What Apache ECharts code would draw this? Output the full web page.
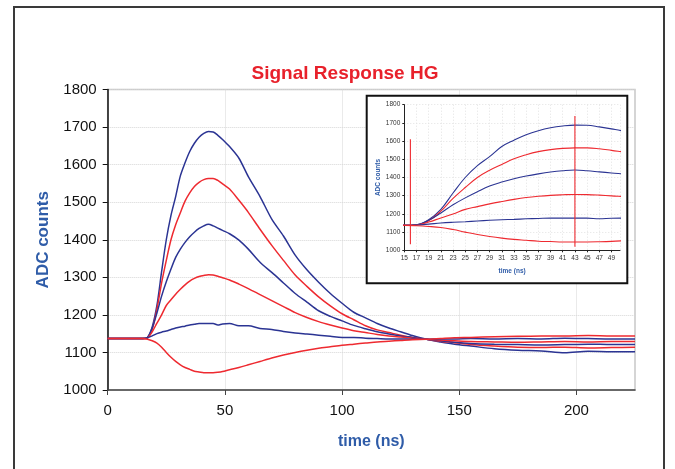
<!DOCTYPE html>
<html>
<head>
<meta charset="utf-8">
<script src="https://cdn.jsdelivr.net/npm/echarts@6/dist/echarts.min.js"></script>
<style>html,body{margin:0;padding:0;background:#fff}#c{width:675px;height:469px}</style>
</head>
<body>
<div id="c"></div>
<script>
// time axis (ns)
const timeNs = [0, 10, 15, 17, 19, 21, 23, 25, 27, 29, 31, 33, 35, 37, 39, 41, 43, 45, 47, 49, 52, 56, 60, 65, 70, 75, 80, 85, 90, 95, 100, 105, 110, 115, 120, 125, 130, 136, 142, 148, 155, 165, 175, 185, 195, 205, 215, 225];
// ADC counts for each pulse amplitude
const blue1 = [1137, 1137, 1137, 1140, 1168, 1225, 1315, 1400, 1465, 1515, 1570, 1605, 1635, 1657, 1673, 1683, 1688, 1687, 1678, 1667, 1648, 1617, 1568, 1515, 1455, 1410, 1359, 1320, 1287, 1257, 1231, 1207, 1192, 1177, 1165, 1155, 1145, 1135, 1128, 1122, 1117, 1110, 1106, 1104, 1099, 1103, 1102, 1102];
const red1 = [1137, 1137, 1137, 1139, 1162, 1215, 1285, 1345, 1400, 1440, 1472, 1503, 1525, 1542, 1553, 1560, 1563, 1563, 1558, 1549, 1535, 1505, 1473, 1428, 1385, 1345, 1306, 1276, 1248, 1224, 1203, 1187, 1171, 1160, 1153, 1146, 1140, 1135, 1130, 1126, 1121, 1117, 1114, 1113, 1114, 1112, 1113, 1114];
const blue2 = [1137, 1137, 1137, 1140, 1165, 1205, 1250, 1288, 1322, 1353, 1375, 1393, 1408, 1420, 1430, 1437, 1441, 1437, 1431, 1425, 1416, 1399, 1375, 1340, 1313, 1285, 1257, 1234, 1211, 1196, 1184, 1172, 1163, 1155, 1149, 1144, 1140, 1135, 1131, 1127, 1124, 1122, 1121, 1120, 1121, 1122, 1121, 1121];
const red2 = [1137, 1137, 1137, 1139, 1155, 1178, 1200, 1225, 1240, 1255, 1268, 1280, 1290, 1297, 1302, 1305, 1307, 1306, 1303, 1299, 1293, 1282, 1270, 1254, 1238, 1222, 1206, 1193, 1182, 1173, 1165, 1158, 1153, 1148, 1144, 1141, 1138, 1135, 1133, 1131, 1129, 1128, 1127, 1128, 1129, 1128, 1129, 1129];
const blue3 = [1137, 1137, 1137, 1139, 1144, 1150, 1154, 1157, 1161, 1165, 1168, 1170, 1173, 1175, 1177, 1177, 1177, 1177, 1173, 1176, 1177, 1171, 1171, 1164, 1161, 1156, 1152, 1149, 1146, 1143, 1140, 1140, 1138, 1137, 1136, 1136, 1135, 1135, 1136, 1136, 1137, 1136, 1137, 1136, 1138, 1137, 1136, 1136];
const red3 = [1137, 1137, 1137, 1135, 1131, 1125, 1114, 1100, 1087, 1076, 1067, 1060, 1055, 1050, 1048, 1046, 1046, 1046, 1047, 1049, 1054, 1060, 1067, 1076, 1085, 1093, 1100, 1106, 1111, 1115, 1119, 1122, 1125, 1128, 1130, 1132, 1134, 1135, 1137, 1139, 1140, 1142, 1143, 1144, 1144, 1145, 1144, 1144];
// inset vertical markers: [time, low, high]
const insetMarkers = [[16, 1033, 1610], [43, 1020, 1738]];

const curves = [
  { v: blue1, c: 'blue' }, { v: red1, c: 'red' }, { v: blue2, c: 'blue' },
  { v: red2, c: 'red' }, { v: blue3, c: 'blue' }, { v: red3, c: 'red' }
];
const BLUE = '#2B3493', RED = '#EE2A30', NAME_BLUE = '#2F5CA8';
const FF = 'Liberation Sans, Arial, sans-serif';
const pairs = arr => timeNs.map((t, i) => [t, arr[i]]);
const plain = v => String(v);

const series = [];
curves.forEach(cv => {
  series.push({ type: 'line', xAxisIndex: 0, yAxisIndex: 0, data: pairs(cv.v), symbol: 'none', smooth: 0.3, z: 2,
    lineStyle: { color: cv.c === 'blue' ? BLUE : RED, width: 1.5 } });
});
curves.forEach(cv => {
  series.push({ type: 'line', xAxisIndex: 1, yAxisIndex: 1, data: pairs(cv.v), symbol: 'none', smooth: 0.4, z: 4, clip: true,
    lineStyle: { color: cv.c === 'blue' ? BLUE : RED, width: 1.1 } });
});
insetMarkers.forEach(m => {
  series.push({ type: 'line', xAxisIndex: 1, yAxisIndex: 1, data: [[m[0], m[1]], [m[0], m[2]]], symbol: 'none', z: 5,
    lineStyle: { color: RED, width: 1.1 } });
});

const chart = echarts.init(document.getElementById('c'), null, { renderer: 'canvas' });
chart.setOption({
  animation: false,
  backgroundColor: '#fff',
  title: { text: 'Signal Response HG', left: 340, top: 59, textAlign: 'center',
    textStyle: { color: '#E8212B', fontSize: 19, fontWeight: 'bold', fontFamily: FF } },
  graphic: [
    { type: 'rect', shape: { x: 14, y: 7, width: 650, height: 475 }, style: { fill: 'none', stroke: '#3a3a3a', lineWidth: 2 }, z: 0 },
    { type: 'rect', shape: { x: 366.7, y: 95.7, width: 260.6, height: 187.6 }, style: { fill: '#fff', stroke: '#111', lineWidth: 2 }, z: 1 }
  ],
  grid: [
    { left: 107.7, top: 89.5, right: 40, bottom: 79, show: true, borderColor: '#c8c8c8', borderWidth: 1.5 },
    { left: 404.3, top: 104.7, right: 55, bottom: 218.7 }
  ],
  xAxis: [
    { gridIndex: 0, type: 'value', min: 0, max: 225, interval: 50,
      axisLine: { onZero: false, lineStyle: { color: '#444', width: 1.5 } },
      axisTick: { length: 5, lineStyle: { color: '#444' } },
      axisLabel: { showMaxLabel: false, color: '#111', fontSize: 15, margin: 13, fontFamily: FF, formatter: plain },
      splitLine: { show: true, lineStyle: { color: '#d6d6d6', type: 'dotted' } },
      name: 'time (ns)', nameLocation: 'middle', nameGap: 44,
      nameTextStyle: { color: NAME_BLUE, fontSize: 16, fontWeight: 'bold', fontFamily: FF } },
    { gridIndex: 1, type: 'value', min: 15, max: 50.4, interval: 2, z: 3,
      axisLine: { onZero: false, lineStyle: { color: '#222', width: 1 } },
      axisTick: { length: 2, lineStyle: { color: '#222' } },
      axisLabel: { showMaxLabel: false, color: '#333', fontSize: 6.5, margin: 4, fontFamily: FF, formatter: plain },
      splitLine: { show: true, lineStyle: { color: '#e2e2e2', type: [1, 2] } },
      name: 'time (ns)', nameLocation: 'middle', nameGap: 17,
      nameTextStyle: { color: NAME_BLUE, fontSize: 6.5, fontWeight: 'bold', fontFamily: FF } }
  ],
  yAxis: [
    { gridIndex: 0, type: 'value', min: 1000, max: 1800, interval: 100,
      axisLine: { show: true, onZero: false, lineStyle: { color: '#111', width: 1.5 } },
      axisTick: { show: true, length: 5, lineStyle: { color: '#111' } },
      axisLabel: { color: '#111', fontSize: 15, margin: 11, fontFamily: FF, formatter: plain },
      splitLine: { show: true, lineStyle: { color: '#d6d6d6', type: 'dotted' } },
      name: 'ADC counts', nameLocation: 'middle', nameGap: 56,
      nameTextStyle: { color: NAME_BLUE, fontSize: 17, fontWeight: 'bold', fontFamily: FF } },
    { gridIndex: 1, type: 'value', min: 1000, max: 1800, interval: 100, z: 3,
      axisLine: { show: true, onZero: false, lineStyle: { color: '#222', width: 1 } },
      axisTick: { show: true, length: 2, lineStyle: { color: '#222' } },
      axisLabel: { color: '#333', fontSize: 6.5, margin: 4, fontFamily: FF, formatter: plain },
      splitLine: { show: true, lineStyle: { color: '#e2e2e2', type: [1, 2] } },
      name: 'ADC counts', nameLocation: 'middle', nameGap: 20,
      nameTextStyle: { color: NAME_BLUE, fontSize: 6.5, fontWeight: 'bold', fontFamily: FF } }
  ],
  series: series
});
</script>
</body>
</html>
